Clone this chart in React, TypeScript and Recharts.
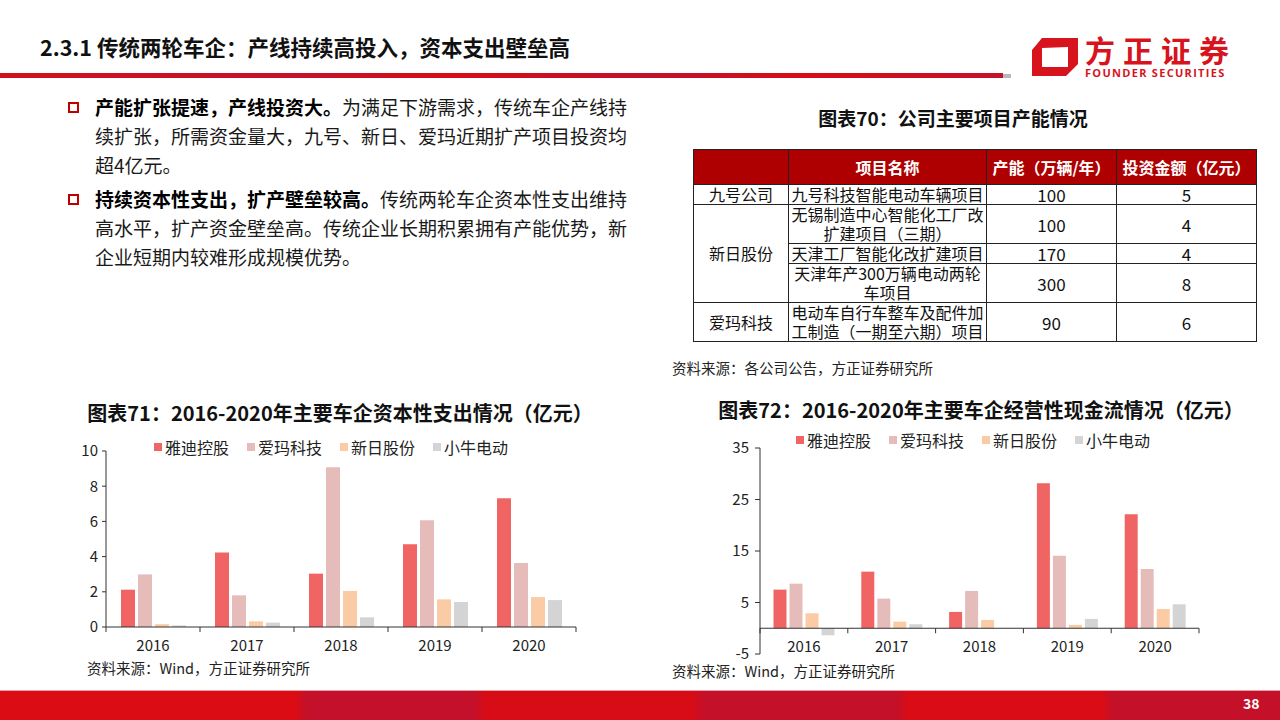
import React from "react";
import { BarChart, Bar, XAxis, YAxis, ReferenceLine } from "recharts";

const YEARS = ["2016", "2017", "2018", "2019", "2020"];
const SERIES_NAMES = ["雅迪控股", "爱玛科技", "新日股份", "小牛电动"];
const SERIES_KEYS = ["yadea", "aima", "sunra", "niu"];
const SERIES_COLORS = ["#F06464", "#E6BCBA", "#FBCBA5", "#D4D4D4"];

// 资本性支出（亿元）
const CAPEX_YADEA = [2.12, 4.24, 3.03, 4.7, 7.31];
const CAPEX_AIMA = [2.99, 1.8, 9.07, 6.06, 3.64];
const CAPEX_SUNRA = [0.16, 0.32, 2.05, 1.57, 1.7];
const CAPEX_NIU = [0.09, 0.25, 0.55, 1.42, 1.53];
const CAPEX_TICKS = [0, 2, 4, 6, 8, 10];

// 经营性现金流（亿元）
const OCF_YADEA = [7.5, 10.99, 3.17, 28.17, 22.16];
const OCF_AIMA = [8.66, 5.75, 7.24, 14.09, 11.5];
const OCF_SUNRA = [2.91, 1.29, 1.62, 0.65, 3.75];
const OCF_NIU = [-1.36, 0.78, 0, 1.81, 4.65];
const OCF_TICKS = [-5, 5, 15, 25, 35];

const TABLE_HEAD = ["", "项目名称", "产能（万辆/年）", "投资金额（亿元）"];
const TABLE_COMPANIES = ["九号公司", "新日股份", "爱玛科技"];
const TABLE_PROJECTS = [
  ["九号科技智能电动车辆项目"],
  ["无锡制造中心智能化工厂改", "扩建项目（三期）"],
  ["天津工厂智能化改扩建项目"],
  ["天津年产300万辆电动两轮", "车项目"],
  ["电动车自行车整车及配件加", "工制造（一期至六期）项目"],
];
const TABLE_CAPACITY = [100, 100, 170, 300, 90];
const TABLE_INVEST = [5, 4, 4, 8, 6];

const FONT = '"Noto Sans CJK SC", "Noto Sans", sans-serif';

const toRows = (a: number[], b: number[], c: number[], d: number[]) =>
  YEARS.map((year, i) => ({ year, yadea: a[i], aima: b[i], sunra: c[i], niu: d[i] }));

const capexRows = toRows(CAPEX_YADEA, CAPEX_AIMA, CAPEX_SUNRA, CAPEX_NIU);
const ocfRows = toRows(OCF_YADEA, OCF_AIMA, OCF_SUNRA, OCF_NIU);

// category tick with separators on the band edges; shift moves it up to the zero line
function BandTick(props: any) {
  const { x, y, payload, index, half, shift } = props;
  const h = payload && payload.offset ? payload.offset : half;
  const y0 = y - shift;
  return (
    <g>
      <line x1={x - h} x2={x - h} y1={y0} y2={y0 + 5} stroke="#333" />
      {index === YEARS.length - 1 && (
        <line x1={x + h} x2={x + h} y1={y0} y2={y0 + 5} stroke="#333" />
      )}
      <text
        x={x}
        y={y0 + 17}
        textAnchor="middle"
        dominantBaseline="central"
        fontSize={15}
        fill="#222"
        fontFamily={FONT}
      >
        {payload.value}
      </text>
    </g>
  );
}

function Legend4({ left, top }: { left: number; top: number }) {
  return (
    <div style={{ position: "absolute", left, top, display: "flex", fontFamily: FONT }}>
      {SERIES_NAMES.map((n, i) => (
        <div key={n} style={{ width: 93, display: "flex", alignItems: "center", height: 20 }}>
          <div style={{ width: 8, height: 8, background: SERIES_COLORS[i], marginRight: 3 }} />
          <span style={{ fontSize: 16, color: "#222", lineHeight: "20px" }}>{n}</span>
        </div>
      ))}
    </div>
  );
}

function Bars() {
  return (
    <>
      {SERIES_KEYS.map((k, i) => (
        <Bar key={k} dataKey={k} name={SERIES_NAMES[i]} fill={SERIES_COLORS[i]} isAnimationActive={false} />
      ))}
    </>
  );
}

const abs = (left: number, top: number, extra: React.CSSProperties = {}): React.CSSProperties => ({
  position: "absolute",
  left,
  top,
  ...extra,
});

const cell: React.CSSProperties = {
  border: "1.5px solid #222",
  textAlign: "center",
  padding: 0,
  fontSize: 16,
  lineHeight: "19px",
  color: "#111",
};

export default function App() {
  const ocfPlotH = 206;
  const zeroShift = (ocfPlotH * (0 - OCF_TICKS[0])) / (OCF_TICKS[OCF_TICKS.length - 1] - OCF_TICKS[0]);

  return (
    <div
      style={{
        position: "absolute",
        left: 0,
        top: 0,
        width: 1280,
        height: 720,
        background: "#fff",
        overflow: "hidden",
        fontFamily: FONT,
      }}
    >
      {/* header */}
      <div style={abs(40, 33, { fontSize: 21.5, fontWeight: 700, lineHeight: "28px", color: "#111" })}>
        2.3.1 传统两轮车企：产线持续高投入，资本支出壁垒高
      </div>
      <div
        style={abs(0, 73, {
          width: 1003,
          height: 5,
          background:
            "linear-gradient(90deg,#D2101C 0%,#C8102A 30%,#D80C16 45%,#C4102A 65%,#D80C16 80%,#C8102A 100%)",
        })}
      />
      <div style={abs(1003, 74, { width: 8, height: 4, background: "#B8B8B8" })} />
      <svg style={abs(1030, 36)} width={50} height={42}>
        <path
          d="M12 2 L48 2 L48 28 L36 40 L2 40 L2 14 Z M12 12 L12 31 L38 31 L38 11 Z"
          fill="#D7141E"
          fillRule="evenodd"
        />
      </svg>
      <div
        style={abs(1085, 34, {
          fontSize: 30,
          fontWeight: 700,
          color: "#D7141E",
          letterSpacing: 8,
          lineHeight: "30px",
        })}
      >
        方正证券
      </div>
      <div
        style={abs(1085, 67, {
          fontSize: 11,
          fontWeight: 700,
          color: "#D7141E",
          letterSpacing: 1.3,
          lineHeight: "12px",
          fontFamily: '"Open Sans", sans-serif',
        })}
      >
        FOUNDER SECURITIES
      </div>

      {/* bullets */}
      {[
        {
          top: 92,
          bold: "产能扩张提速，产线投资大。",
          lines: ["为满足下游需求，传统车企产线持", "续扩张，所需资金量大，九号、新日、爱玛近期扩产项目投资均", "超4亿元。"],
        },
        {
          top: 184,
          bold: "持续资本性支出，扩产壁垒较高。",
          lines: ["传统两轮车企资本性支出维持", "高水平，扩产资金壁垒高。传统企业长期积累拥有产能优势，新", "企业短期内较难形成规模优势。"],
        },
      ].map((b) => (
        <React.Fragment key={b.top}>
          <div
            style={abs(68, b.top + 10, {
              width: 7,
              height: 7,
              border: "2px solid #C00000",
              background: "#fff",
            })}
          />
          <div style={abs(95, b.top, { fontSize: 19, lineHeight: "29px", color: "#1a1a1a", whiteSpace: "nowrap" })}>
            <span style={{ fontWeight: 700, color: "#000" }}>{b.bold}</span>
            {b.lines[0]}
            <br />
            {b.lines[1]}
            <br />
            {b.lines[2]}
          </div>
        </React.Fragment>
      ))}

      {/* table */}
      <div style={abs(753, 104, { width: 400, textAlign: "center", fontSize: 19, fontWeight: 700, lineHeight: "28px", color: "#111" })}>
        图表70：公司主要项目产能情况
      </div>
      <table
        style={{
          position: "absolute",
          left: 693,
          top: 149,
          borderCollapse: "collapse",
          tableLayout: "fixed",
          width: 563,
          fontFamily: FONT,
        }}
      >
        <colgroup>
          <col style={{ width: 95 }} />
          <col style={{ width: 198 }} />
          <col style={{ width: 130 }} />
          <col style={{ width: 140 }} />
        </colgroup>
        <tbody>
          <tr style={{ height: 35 }}>
            {TABLE_HEAD.map((h, i) => (
              <td key={i} style={{ ...cell, background: "#AE0000", color: "#fff", fontWeight: 700 }}>
                {h}
              </td>
            ))}
          </tr>
          {TABLE_PROJECTS.map((p, i) => (
            <tr key={i} style={{ height: p.length > 1 ? 39 : 20 }}>
              {i === 0 && <td style={cell}>{TABLE_COMPANIES[0]}</td>}
              {i === 1 && (
                <td style={cell} rowSpan={3}>
                  {TABLE_COMPANIES[1]}
                </td>
              )}
              {i === 4 && <td style={cell}>{TABLE_COMPANIES[2]}</td>}
              <td style={{ ...cell, whiteSpace: "nowrap" }}>
                {p.map((l, j) => (
                  <div key={j}>{l}</div>
                ))}
              </td>
              <td style={{ ...cell, fontSize: 17 }}>{TABLE_CAPACITY[i]}</td>
              <td style={{ ...cell, fontSize: 17 }}>{TABLE_INVEST[i]}</td>
            </tr>
          ))}
        </tbody>
      </table>
      <div style={abs(672, 360, { fontSize: 14.5, lineHeight: "16px", color: "#222" })}>
        资料来源：各公司公告，方正证券研究所
      </div>

      {/* chart 71 */}
      <div style={abs(40, 399, { width: 600, textAlign: "center", fontSize: 20, fontWeight: 700, lineHeight: "28px", color: "#111" })}>
        图表71：2016-2020年主要车企资本性支出情况（亿元）
      </div>
      <Legend4 left={154} top={437} />
      <div style={abs(60, 430)}>
        <BarChart
          width={520}
          height={240}
          data={capexRows}
          margin={{ top: 21, right: 4, bottom: 13, left: 0 }}
          barGap={3}
          barCategoryGap={15}
        >
          <XAxis
            dataKey="year"
            interval={0}
            height={30}
            tickLine={false}
            tickSize={0}
            tickMargin={0}
            axisLine={{ stroke: "#333" }}
            tick={(p: any) => <BandTick {...p} half={47} shift={0} />}
          />
          <YAxis
            width={46}
            domain={[0, 10]}
            ticks={CAPEX_TICKS}
            interval={0}
            tickSize={4}
            tickMargin={4}
            axisLine={{ stroke: "#333" }}
            tickLine={{ stroke: "#333" }}
            tick={{ fontSize: 15, fill: "#222", fontFamily: FONT }}
          />
          {Bars()}
        </BarChart>
      </div>
      <div style={abs(87, 660, { fontSize: 14.5, lineHeight: "16px", color: "#222" })}>
        资料来源：Wind，方正证券研究所
      </div>

      {/* chart 72 */}
      <div style={abs(681, 396, { width: 600, textAlign: "center", fontSize: 20, fontWeight: 700, lineHeight: "28px", color: "#111" })}>
        图表72：2016-2020年主要车企经营性现金流情况（亿元）
      </div>
      <Legend4 left={796} top={430} />
      <div style={abs(700, 425)}>
        <BarChart
          width={504}
          height={245}
          data={ocfRows}
          margin={{ top: 23, right: 5, bottom: 6, left: 0 }}
          barGap={3}
          barCategoryGap={13.5}
        >
          <XAxis
            dataKey="year"
            interval={0}
            height={10}
            tickLine={false}
            tickSize={0}
            tickMargin={0}
            axisLine={false}
            tick={(p: any) => <BandTick {...p} half={44} shift={zeroShift} />}
          />
          <YAxis
            width={60}
            domain={[OCF_TICKS[0], OCF_TICKS[OCF_TICKS.length - 1]]}
            ticks={OCF_TICKS}
            interval={0}
            tickSize={5}
            tickMargin={6}
            axisLine={{ stroke: "#333" }}
            tickLine={{ stroke: "#333" }}
            tick={{ fontSize: 15, fill: "#222", fontFamily: FONT }}
          />
          {Bars()}
          <ReferenceLine y={0} stroke="#333" strokeWidth={1} />
        </BarChart>
      </div>
      <div style={abs(672, 663, { fontSize: 14.5, lineHeight: "16px", color: "#222" })}>
        资料来源：Wind，方正证券研究所
      </div>

      {/* footer */}
      <div
        style={abs(0, 690, {
          width: 1280,
          height: 30,
          background:
            "linear-gradient(90deg,#DC0C14 0%,#DC0C14 23%,#C4102A 24%,#C4102A 37%,#D80C16 38%,#D80C16 54%,#C41028 55%,#C41028 70%,#DA0C16 71%,#DA0C16 86%,#C41028 87%,#C41028 100%)",
          borderTop: "1px solid #E8A0A8",
        })}
      />
      <div style={abs(1243, 694, { fontSize: 14, fontWeight: 700, color: "#fff", lineHeight: "18px" })}>38</div>
    </div>
  );
}
